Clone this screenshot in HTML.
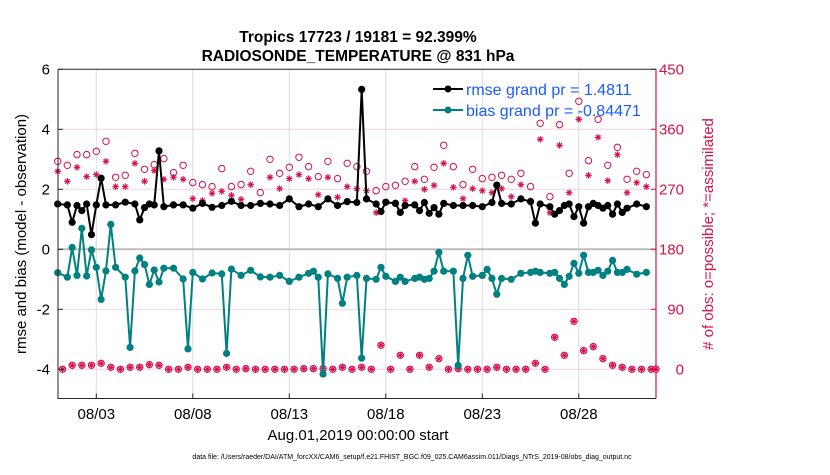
<!DOCTYPE html>
<html><head><meta charset="utf-8"><style>
body{margin:0;background:#fff;width:830px;height:470px;overflow:hidden;font-family:"Liberation Sans",sans-serif}
svg text{font-family:"Liberation Sans",sans-serif}
</style></head><body>
<svg id="chart" width="830" height="470" xmlns="http://www.w3.org/2000/svg">
<rect width="830" height="470" fill="#fff"/>
<text x="358" y="42" text-anchor="middle" font-size="15.5" font-weight="bold">Tropics 17723 / 19181 = 92.399%</text>
<text x="358" y="61" text-anchor="middle" font-size="15.5" font-weight="bold">RADIOSONDE_TEMPERATURE @ 831 hPa</text>
<g id="grid"></g>
<g id="obs"></g>
<g id="series"></g>
<g id="axes"></g>
<text transform="translate(26,234) rotate(-90)" text-anchor="middle" font-size="15">rmse and bias (model - observation)</text>
<text transform="translate(713,234) rotate(-90)" text-anchor="middle" font-size="15" fill="#d6114f"># of obs: o=possible; *=assimilated</text>
<text x="358" y="440" text-anchor="middle" font-size="15">Aug.01,2019 00:00:00 start</text>
<text x="412" y="459" text-anchor="middle" font-size="7">data file: /Users/raeder/DAI/ATM_forcXX/CAM6_setup/f.e21.FHIST_BGC.f09_025.CAM6assim.011/Diags_NTrS_2019-08/obs_diag_output.nc</text>
<g>
<line x1="433" y1="89" x2="463" y2="89" stroke="#000" stroke-width="2"/><circle cx="448" cy="89" r="3.5" fill="#000"/>
<text x="466" y="95" font-size="16" fill="#1a5cff">rmse grand pr = 1.4811</text>
<line x1="433" y1="110" x2="463" y2="110" stroke="#008080" stroke-width="2"/><circle cx="448" cy="110" r="3.5" fill="#008080"/>
<text x="466" y="116" font-size="16" fill="#1a5cff">bias grand pr = -0.84471</text>
</g>
</svg>
<script>
const xTickDays=[2,7,12,17,22,27];
const xTickLabels=["08/03","08/08","08/13","08/18","08/23","08/28"];
const leftTicks=[-4,-2,0,2,4,6];
const rightTicks=[0,90,180,270,360,450];
const times=[0,0.5,0.75,1,1.25,1.5,1.75,2,2.25,2.5,2.75,3,3.5,3.75,4,4.25,4.5,4.75,5,5.25,5.5,6,6.5,6.75,7,7.5,8,8.5,8.75,9,9.5,10,10.5,11,11.5,12,12.5,13,13.25,13.5,13.75,14,14.5,14.75,15,15.5,15.75,16,16.5,16.75,17,17.5,17.75,18,18.5,18.75,19,19.25,19.5,19.75,20,20.5,20.75,21,21.25,21.5,22,22.25,22.5,22.75,23,23.5,24,24.5,24.75,25,25.5,25.75,26,26.25,26.5,26.75,27,27.25,27.5,27.75,28,28.25,28.5,28.75,29,29.25,29.5,30,30.5];
const rmse=[1.51,1.48,0.9,1.46,1.29,1.51,0.49,1.48,2.37,1.48,null,1.48,1.57,null,1.51,0.98,1.39,1.51,1.48,3.28,1.42,1.48,1.48,null,1.37,1.53,1.4,1.46,null,1.6,1.46,1.46,1.53,1.51,1.46,1.68,1.42,1.51,null,1.42,null,1.68,1.46,null,1.59,1.56,5.33,1.68,1.51,1.26,1.57,1.53,1.23,1.46,1.48,1.29,1.56,1.2,1.39,1.17,1.53,1.46,null,1.46,null,1.46,1.42,null,1.56,2.14,1.53,1.51,1.68,1.59,0.87,1.51,1.42,1.17,1.29,1.46,1.51,1.09,1.42,0.87,1.42,1.53,1.46,1.37,1.46,1.17,1.51,1.23,1.37,1.51,1.42];
const bias=[-0.78,-0.93,0.06,-0.87,0.7,-0.89,-0.02,-0.6,-1.67,-0.72,0.83,-0.6,-0.93,-3.27,-0.72,-0.29,-0.51,-1.17,-0.69,-1.09,-0.63,-0.63,-0.99,-3.32,-0.77,-0.99,-0.79,-0.82,-3.47,-0.66,-0.87,-0.7,-0.92,-0.93,-0.87,-1.07,-0.93,-0.8,-0.73,-0.93,-4.16,-0.82,-0.97,-1.8,-0.93,-0.87,-3.63,-0.97,-1.0,-0.6,-0.9,-1.07,-0.93,-1.07,-0.97,-0.93,-1.0,-0.97,-0.73,-0.1,-0.73,-0.73,-3.87,-0.97,-0.2,-0.9,-0.87,-0.67,-0.97,-1.5,-0.97,-1.0,-0.8,-0.77,-0.73,-0.77,-0.8,-0.77,-0.97,-1.17,-0.9,-0.47,-0.8,-0.2,-0.77,-0.77,-0.7,-0.87,-0.73,-0.37,-0.77,-0.77,-0.67,-0.83,-0.77];
const obsStart=0, obsStep=0.25;
const possible=[312,0,306,6,322,6,322,6,327,9,342,3,288,0,291,3,324,3,300,7,307,6,316,0,295,0,306,3,280,0,277,0,274,0,301,3,274,0,277,1,297,0,265,0,315,0,294,0,303,0,318,1,304,1,289,1,312,0,286,3,309,0,304,3,297,0,268,36,274,0,276,21,282,0,304,21,285,3,303,16,336,0,304,1,277,0,300,0,286,0,288,3,291,0,285,0,294,0,274,9,369,0,259,48,367,21,294,72,402,28,313,34,375,16,306,6,333,3,285,0,297,0,292,0,0];
const assimilated=[297,0,282,6,303,6,289,6,292,9,312,3,274,0,274,3,309,3,282,7,298,6,285,0,288,0,285,3,256,0,253,0,264,0,267,3,261,0,255,1,277,0,249,0,288,0,271,0,286,0,292,1,286,1,262,1,288,0,258,3,274,0,271,3,268,0,235,36,250,0,250,21,253,0,282,21,270,3,276,16,309,0,273,1,256,0,271,0,268,0,265,3,271,0,259,0,277,0,253,9,345,0,235,48,336,21,265,72,375,28,291,34,348,16,283,6,322,3,265,0,280,0,274,0,0];

const NS="http://www.w3.org/2000/svg";
const X0=58,X1=656,Y0=69.3,Y1=398.5;
const xDay=d=>57.7+19.3*d;
const yL=v=>249.3-30*v;
const yR=c=>yL(c/45-4);
function mk(tag,attrs,parent){const e=document.createElementNS(NS,tag);for(const k in attrs)e.setAttribute(k,attrs[k]);parent.appendChild(e);return e;}
const grid=document.getElementById('grid'),axes=document.getElementById('axes'),obs=document.getElementById('obs'),ser=document.getElementById('series');
xTickDays.forEach((d,i)=>{
  const g=mk('line',{x1:xDay(d),x2:xDay(d),y1:Y0,y2:Y1,stroke:'#dcdcdc','stroke-width':1},grid);
  
  
  const t=mk('line',{x1:xDay(d),x2:xDay(d),y1:Y1,y2:Y1-5,stroke:'#262626','stroke-width':1},axes);
  
  
  const l=mk('text',{x:xDay(d),y:419,'text-anchor':'middle','font-size':15},axes);
  
  
  l.textContent=xTickLabels[i];
});
leftTicks.forEach(v=>{
  if(v!==0&&v!==6){const g=mk('line',{x1:X0,x2:X1,y1:yL(v),y2:yL(v),stroke:'#f2d3dd','stroke-width':1},grid);
  
  }
  const t=mk('line',{x1:X0,x2:X0+5,y1:yL(v),y2:yL(v),stroke:'#262626'},axes);
  
  
  const l=mk('text',{x:X0-8,y:yL(v)+5,'text-anchor':'end','font-size':15},axes);
  
  
  l.textContent=String(v);
});
const z=mk('line',{x1:X0,x2:X1,y1:yL(0),y2:yL(0),stroke:'#bdbdbd','stroke-width':2},grid);


rightTicks.forEach(c=>{
  const t=mk('line',{x1:X1,x2:X1-5,y1:yR(c),y2:yR(c),stroke:'#d6114f'},axes);
  
  
  const l=mk('text',{x:X1+28,y:yR(c)+5,'text-anchor':'end','font-size':15,fill:'#d6114f'},axes);
  
  
  l.textContent=String(c);
});
const fr=mk('path',{d:`M${X0},${Y0}H${X1}M${X0},${Y0}V${Y1}H${X1}`,stroke:'#262626',fill:'none','stroke-width':1},axes);


const ra=mk('line',{x1:X1,x2:X1,y1:Y0,y2:Y1,stroke:'#d6114f','stroke-width':1.2},axes);


possible.forEach((c,i)=>{
  const x=xDay(obsStart+i*obsStep);
  const o=mk('circle',{cx:x,cy:yR(c),r:3.2,fill:'none',stroke:'#d6114f','stroke-width':1},obs);
  
  
});
assimilated.forEach((c,i)=>{
  const x=xDay(obsStart+i*obsStep),y=yR(c),r=3.3;
  const a=mk('path',{d:`M${x-r},${y}H${x+r}M${x},${y-r}V${y+r}M${x-2.3},${y-2.3}L${x+2.3},${y+2.3}M${x-2.3},${y+2.3}L${x+2.3},${y-2.3}`,stroke:'#d6114f','stroke-width':1.1},obs);
  
  
});
function drawSeries(vals,color,name){
  const pts=[];vals.forEach((v,i)=>{if(v!==null)pts.push([xDay(times[i]),yL(v)]);});
  const p=mk('polyline',{points:pts.map(q=>q.join(',')).join(' '),fill:'none',stroke:color,'stroke-width':2},ser);
  
  
  pts.forEach(q=>{const c=mk('circle',{cx:q[0],cy:q[1],r:3.6,fill:color},ser);
    
    });
}
drawSeries(bias,'#008080','bias');
drawSeries(rmse,'#000000','rmse');
</script>
</body></html>
